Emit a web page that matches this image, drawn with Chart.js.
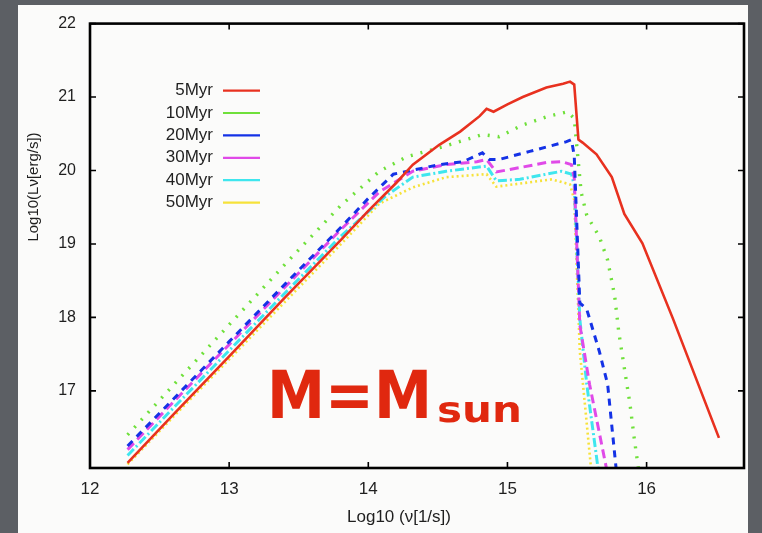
<!DOCTYPE html>
<html>
<head>
<meta charset="utf-8">
<title>Lv spectrum</title>
<script src="https://cdn.jsdelivr.net/npm/chart.js@4.4.1/dist/chart.umd.min.js"></script>
<style>
  html, body { margin: 0; padding: 0; }
  body { width: 762px; height: 533px; background: #5c5f64; position: relative; overflow: hidden; }
  #panel { position: absolute; left: 18px; top: 5px; width: 730px; height: 528px; background: #fbfbfa; }
  #wrap { position: absolute; left: 0; top: 0; width: 762px; height: 533px; }
</style>
</head>
<body>
<div id="panel"></div>
<div id="wrap"><canvas id="c"></canvas></div>

<script>
// log10 nu  /  log10 L_nu
var nu5  = [12.27, 12.6, 13.0, 13.4, 13.8, 14.0, 14.2, 14.32, 14.51, 14.66, 14.8, 14.85, 14.9, 15.0, 15.11, 15.28, 15.4, 15.45, 15.48, 15.51, 15.54, 15.64, 15.75, 15.84, 15.97, 16.19, 16.52];
var L5   = [16.02, 16.68, 17.47, 18.27, 19.05, 19.45, 19.83, 20.08, 20.35, 20.53, 20.74, 20.84, 20.80, 20.90, 21.00, 21.13, 21.18, 21.21, 21.17, 20.42, 20.38, 20.22, 19.91, 19.41, 19.01, 17.98, 16.36];

var nu10 = [12.27, 12.6, 13.0, 13.4, 13.8, 14.08, 14.28, 14.53, 14.82, 14.94, 15.11, 15.28, 15.43, 15.48, 15.50, 15.53, 15.57, 15.66, 15.72, 15.77, 15.80, 15.84, 15.88, 15.91, 15.94];
var L10  = [16.40, 17.08, 17.90, 18.72, 19.52, 19.99, 20.19, 20.32, 20.49, 20.46, 20.62, 20.73, 20.80, 20.71, 20.30, 19.70, 19.39, 19.10, 18.78, 18.30, 17.80, 17.31, 16.83, 16.37, 15.96];

var nu20 = [12.27, 12.6, 13.0, 13.4, 13.8, 14.0, 14.18, 14.51, 14.68, 14.82, 14.87, 14.94, 15.16, 15.42, 15.46, 15.48, 15.52, 15.57, 15.66, 15.72, 15.78];
var L20  = [16.25, 16.89, 17.67, 18.45, 19.22, 19.62, 19.95, 20.08, 20.12, 20.24, 20.15, 20.15, 20.26, 20.39, 20.42, 20.20, 18.20, 18.11, 17.54, 17.09, 15.96];

var nu30 = [12.27, 12.6, 13.0, 13.4, 13.8, 14.08, 14.32, 14.56, 14.78, 14.85, 14.92, 15.09, 15.28, 15.39, 15.46, 15.48, 15.52, 15.59, 15.71];
var L30  = [16.20, 16.85, 17.63, 18.41, 19.19, 19.71, 19.99, 20.08, 20.12, 20.15, 19.98, 20.04, 20.11, 20.12, 20.08, 19.90, 17.90, 17.09, 15.96];

var nu40 = [12.27, 12.6, 13.0, 13.4, 13.8, 14.13, 14.32, 14.56, 14.85, 14.92, 15.09, 15.28, 15.39, 15.46, 15.48, 15.52, 15.57, 15.65];
var L40  = [16.12, 16.77, 17.55, 18.33, 19.10, 19.66, 19.91, 19.99, 20.06, 19.86, 19.88, 19.95, 19.99, 19.95, 19.80, 17.98, 17.09, 15.96];

var nu50 = [12.27, 12.6, 13.0, 13.4, 13.8, 14.08, 14.32, 14.56, 14.85, 14.92, 15.16, 15.32, 15.45, 15.48, 15.52, 15.60];
var L50  = [16.00, 16.65, 17.43, 18.21, 18.99, 19.55, 19.77, 19.91, 19.95, 19.78, 19.84, 19.88, 19.81, 19.60, 17.54, 15.96];

var labels = ['5Myr', '10Myr', '20Myr', '30Myr', '40Myr', '50Myr'];
var xTicks = [12, 13, 14, 15, 16];
var yTicks = [17, 18, 19, 20, 21, 22];

function pts(xs, ys) {
  return xs.map(function (x, i) { return { x: x, y: ys[i] }; });
}

var styles = [
  { color: '#e8311f', dash: [], width: 2.6 },
  { color: '#6fe03a', dash: [2, 8], width: 3.4 },
  { color: '#1432e6', dash: [7, 6], width: 3.0 },
  { color: '#e04ae8', dash: [9, 5], width: 3.0 },
  { color: '#3fe6ee', dash: [9, 3, 2, 3], width: 3.0 },
  { color: '#f6e23a', dash: [2, 3], width: 2.6 }
];
var series = [pts(nu5, L5), pts(nu10, L10), pts(nu20, L20), pts(nu30, L30), pts(nu40, L40), pts(nu50, L50)];

var datasets = series.map(function (d, i) {
  return {
    label: labels[i],
    data: d,
    showLine: true,
    borderColor: styles[i].color,
    backgroundColor: styles[i].color,
    borderWidth: styles[i].width,
    borderDash: styles[i].dash,
    pointRadius: 0,
    tension: 0
  };
});

var FONT = '"Liberation Sans", Arial, sans-serif';

// frame, inward ticks, legend, titles, big label
var decor = {
  id: 'decor',
  afterDraw: function (chart) {
    var ctx = chart.ctx, a = chart.chartArea;
    var xs = chart.scales.x, ys = chart.scales.y;
    ctx.save();
    ctx.strokeStyle = '#000';
    ctx.lineWidth = 1.6;
    xTicks.forEach(function (v) {
      var p = xs.getPixelForValue(v);
      ctx.beginPath();
      ctx.moveTo(p, a.bottom); ctx.lineTo(p, a.bottom - 6);
      ctx.moveTo(p, a.top); ctx.lineTo(p, a.top + 6);
      ctx.stroke();
    });
    yTicks.forEach(function (v) {
      var p = ys.getPixelForValue(v);
      ctx.beginPath();
      ctx.moveTo(a.left, p); ctx.lineTo(a.left + 6, p);
      ctx.moveTo(a.right, p); ctx.lineTo(a.right - 6, p);
      ctx.stroke();
    });
    ctx.lineWidth = 2.6;
    ctx.strokeRect(a.left, a.top, a.right - a.left, a.bottom - a.top);

    // legend
    ctx.font = '17px ' + FONT;
    ctx.textAlign = 'right';
    ctx.textBaseline = 'middle';
    chart.data.datasets.forEach(function (ds, i) {
      var y = a.top + 67 + i * 22.4;
      ctx.fillStyle = '#1f1f1f';
      ctx.fillText(ds.label, a.left + 123, y);
      ctx.strokeStyle = ds.borderColor;
      ctx.lineWidth = 2.2;
      ctx.setLineDash([]);
      ctx.beginPath();
      ctx.moveTo(a.left + 133, y); ctx.lineTo(a.left + 170, y);
      ctx.stroke();
    });

    // axis titles
    ctx.fillStyle = '#1f1f1f';
    ctx.font = '17px ' + FONT;
    ctx.textAlign = 'center';
    ctx.fillText('Log10 (\u03bd[1/s])', 399, 517);
    ctx.font = '15px ' + FONT;
    ctx.save();
    ctx.translate(34, 187);
    ctx.rotate(-Math.PI / 2);
    ctx.fillText('Log10(L\u03bd[erg/s])', 0, 0);
    ctx.restore();

    // M=Msun
    ctx.fillStyle = '#e0280f';
    ctx.textAlign = 'left';
    ctx.textBaseline = 'alphabetic';
    ctx.font = 'bold 66px "DejaVu Sans", sans-serif';
    var w1 = ctx.measureText('M=M').width;
    ctx.save();
    ctx.translate(267, 418);
    ctx.scale(165 / w1, 1);
    ctx.fillText('M=M', 0, 0);
    ctx.restore();
    ctx.font = 'bold 36px "DejaVu Sans", sans-serif';
    var w2 = ctx.measureText('sun').width;
    ctx.save();
    ctx.translate(437, 422);
    ctx.scale(85 / w2, 1);
    ctx.fillText('sun', 0, 0);
    ctx.restore();
    ctx.restore();
  }
};

new Chart(document.getElementById('c'), {
  type: 'scatter',
  data: { datasets: datasets },
  options: {
    responsive: true,
    maintainAspectRatio: false,
    animation: false,
    layout: { padding: { left: 0, top: 17, right: 18, bottom: 0 } },
    plugins: { legend: { display: false }, tooltip: { enabled: false } },
    scales: {
      x: {
        type: 'linear',
        min: 12, max: 16.7,
        afterBuildTicks: function (s) { s.ticks = xTicks.map(function (v) { return { value: v }; }); },
        afterFit: function (s) { s.height = 65; },
        grid: { display: false, drawTicks: false },
        border: { display: false },
        ticks: { color: '#1f1f1f', font: { size: 17, family: FONT }, padding: 11, maxRotation: 0 }
      },
      y: {
        type: 'linear',
        min: 15.95, max: 22,
        afterBuildTicks: function (s) { s.ticks = yTicks.map(function (v) { return { value: v }; }); },
        afterFit: function (s) { s.width = 90; },
        grid: { display: false, drawTicks: false },
        border: { display: false },
        ticks: { color: '#1f1f1f', font: { size: 16, family: FONT }, padding: 14 }
      }
    }
  },
  plugins: [decor]
});
</script>
</body>
</html>
